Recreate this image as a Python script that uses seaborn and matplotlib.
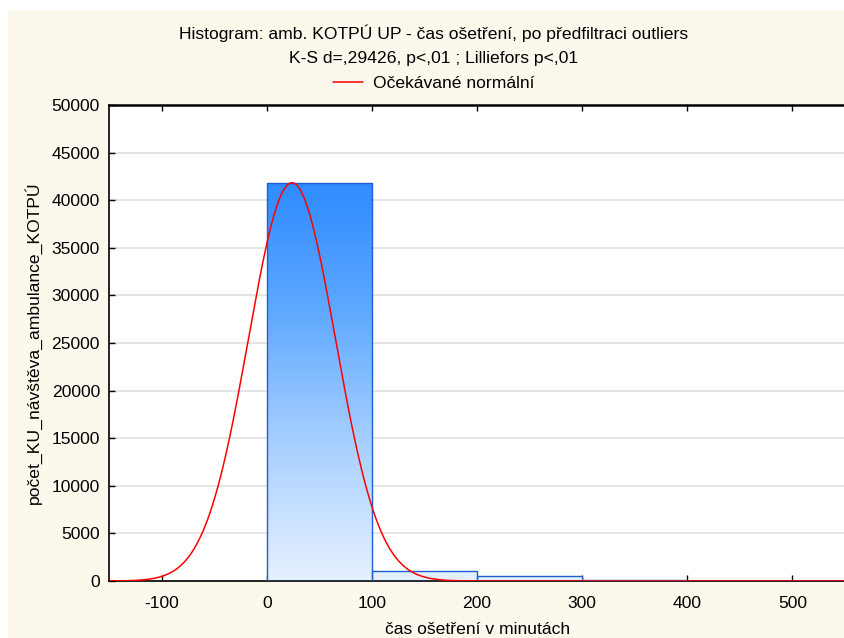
import numpy as np
import pandas as pd
import matplotlib
matplotlib.use("Agg")
import matplotlib.pyplot as plt
from matplotlib.patches import Rectangle
from matplotlib.lines import Line2D
import seaborn as sns

# ---- data ----
bin_edges = [0, 100, 200, 300, 400, 500, 600]
counts = [41800, 1050, 520, 90, 35, 20]
fit_mean = 24.0
fit_sd = 41.5
x_ticks = [-100, 0, 100, 200, 300, 400, 500]
y_ticks = [0, 5000, 10000, 15000, 20000, 25000, 30000, 35000, 40000, 45000, 50000]
title1 = "Histogram: amb. KOTPÚ UP - čas ošetření, po předfiltraci outliers"
title2 = "K-S d=,29426, p<,01 ; Lilliefors p<,01"
legend_label = "Očekávané normální"
xlabel = "čas ošetření v minutách"
ylabel = "počet_KU_návštěva_ambulance_KOTPÚ"

FS = 12.6
sns.set_theme(style="white")
plt.rcParams['font.family'] = ['Liberation Sans', 'DejaVu Sans']
plt.rcParams['font.size'] = FS
plt.rcParams['text.color'] = 'black'
plt.rcParams['axes.labelcolor'] = 'black'

W, H = 845, 638
fig = plt.figure(figsize=(W / 100, H / 100), dpi=100, facecolor="white")
# cream panel background
fig.patches.append(Rectangle((8 / W, 0), 1 - 8 / W, 1 - 10 / H, transform=fig.transFigure,
                             facecolor="#FDF8EC", edgecolor="none", zorder=-5))

ax = fig.add_axes([109 / W, 1 - 581 / H, (W - 109) / W, (581 - 105) / H])
ax.set_zorder(1)
ax.set_facecolor("white")

centers = [(a + b) / 2 for a, b in zip(bin_edges[:-1], bin_edges[1:])]
df = pd.DataFrame({"x": centers, "w": counts})
sns.histplot(data=df, x="x", weights="w", bins=bin_edges, ax=ax, stat="count",
             color="#2E8BFF", edgecolor="#1F5FD0", linewidth=1.0, alpha=1.0)

# gradient fill clipped to bars
cmap = matplotlib.colors.LinearSegmentedColormap.from_list(
    "g", [(0.0, "#E6F1FF"), (0.35, "#A6CFFF"), (0.7, "#5AA6FF"), (1.0, "#2E8BFF")])
grad = np.linspace(0, 1, 256).reshape(-1, 1)
for p in list(ax.patches):
    p.set_facecolor("none")
    p.set_zorder(3)
    im = ax.imshow(grad, cmap=cmap, origin="lower", aspect="auto",
                   extent=[p.get_x(), p.get_x() + p.get_width(), 0, 42000],
                   zorder=2.5, interpolation="bilinear")
    im.set_clip_path(p)
ax.set_xlim(-150, 550)
ax.set_ylim(0, 50000)

# expected normal curve
N = sum(counts)
bw = bin_edges[1] - bin_edges[0]
xs = np.linspace(-150, 550, 800)
ys = N * bw / (fit_sd * np.sqrt(2 * np.pi)) * np.exp(-0.5 * ((xs - fit_mean) / fit_sd) ** 2)
sns.lineplot(x=xs, y=ys, ax=ax, color="#FF0000", linewidth=1.1, zorder=4, legend=False)

ax.set_xticks(x_ticks)
ax.set_yticks(y_ticks)
ax.set_xticklabels([str(v) for v in x_ticks])
ax.set_yticklabels([str(v) for v in y_ticks])
ax.yaxis.grid(True, color="#E0E0E0", linewidth=1.2)
ax.xaxis.grid(False)
ax.set_axisbelow(True)
ax.tick_params(axis="both", direction="in", length=4, width=1, color="black",
               labelsize=FS, labelcolor="black")
ax.tick_params(axis="x", top=True, bottom=True, pad=11)
ax.tick_params(axis="y", left=True, right=False, pad=6.5)
for s in ["left", "top", "bottom"]:
    ax.spines[s].set_color("black")
    ax.spines[s].set_linewidth(1.2)
ax.spines["top"].set_linewidth(1.8)
ax.spines["right"].set_visible(False)

ax.set_xlabel(xlabel, fontsize=FS)
ax.xaxis.set_label_coords((478 - 109) / (W - 109), -(630 - 581) / (581 - 105))
ax.xaxis.label.set_va("center")
ax.set_ylabel(ylabel, fontsize=FS)
ax.yaxis.set_label_coords(-(109 - 33) / (W - 109), 0.5)
ax.yaxis.label.set_va("center")

fig.text(434 / W, 1 - 33 / H, title1, ha="center", va="center", fontsize=FS)
fig.text(434 / W, 1 - 58 / H, title2, ha="center", va="center", fontsize=FS)
h = Line2D([], [], color="#FF0000", linewidth=1.1)
fig.legend([h], [legend_label], loc="center", bbox_to_anchor=(434 / W, 1 - 83 / H),
           frameon=False, fontsize=FS, handlelength=1.7, handletextpad=0.6,
           borderpad=0, borderaxespad=0)

fig.savefig("out.png", dpi=100, facecolor=fig.get_facecolor())
